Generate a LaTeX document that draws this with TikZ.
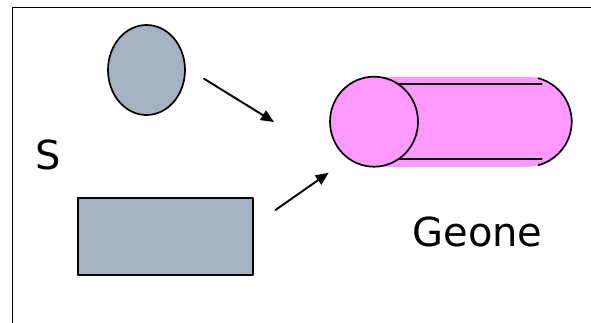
\documentclass[tikz,border=0pt]{standalone}
\usepackage{fontspec}
\setmainfont{DejaVu Sans}
\usetikzlibrary{positioning,arrows.meta,calc,shapes.geometric}

\definecolor{slate}{RGB}{164,178,193}
\definecolor{geonepink}{RGB}{255,153,255}

\begin{document}
\begin{tikzpicture}[
    x=1pt, y=-1pt,
    line join=round,
    line cap=round,
    every node/.style={inner sep=0pt},
    outline/.style={line width=1.7pt},
    blob/.style={draw, ellipse, fill=slate, outline,
        minimum width=77pt, minimum height=90pt},
    slab/.style={draw, rectangle, fill=slate, outline,
        minimum width=175pt, minimum height=77pt},
    bigtext/.style={font=\fontsize{40}{48}\selectfont, anchor=base},
    flow/.style={-{Triangle[length=13pt,width=11pt]}, line width=1.9pt}
]
\useasboundingbox (0,0) rectangle (591,322);

% frame (right and bottom edges fall outside the page)
\draw[line width=1.6pt] (12.4,7.3) rectangle (620,340);

% parts
\node[blob] (oval) at (146.5,70) {};
\node[slab] (brick) at (165.3,236.7) {};

% geone (cylinder)
\fill[geonepink] (374,76.7) rectangle (526.7,166.7);
\fill[geonepink] (526.7,166.7) arc[start angle=90, end angle=-90, radius=45] -- cycle;
\draw[outline] (526.7,121.7) ++(-75:45) arc[start angle=-75, end angle=75, radius=45];
\draw[outline] (391.7,84) -- (541.7,84);
\draw[outline] (391.7,159.3) -- (541.7,159.3);
\node[draw, ellipse, fill=geonepink, outline,
    minimum width=88pt, minimum height=90pt] (cap) at (374,121.7) {};

% labels
\node[bigtext] (lblS) at (48,169.3) {S};
\node[bigtext] (lblGeone) at (477.5,246.7) {Geone};

% arrows
\coordinate (ovalOut) at (204,78.7);
\coordinate (ovalIn) at (274,122);
\coordinate (brickOut) at (275.5,210);
\coordinate (brickIn) at (328.7,172.7);
\draw[flow] (ovalOut) -- (ovalIn);
\draw[flow] (brickOut) -- (brickIn);

\end{tikzpicture}
\end{document}
